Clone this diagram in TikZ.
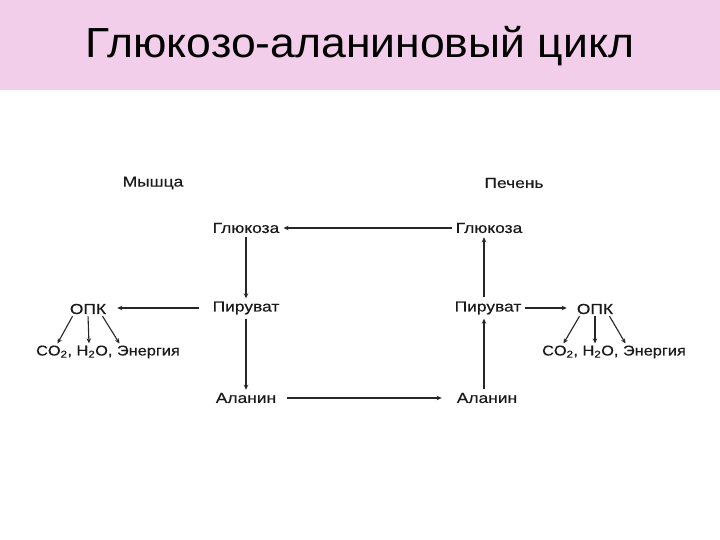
\documentclass[tikz,border=0pt]{standalone}
\usepackage{fontspec}
\setmainfont{Liberation Sans}
\newfontfamily\labfont[FakeStretch=1.2,FakeBold=0.4]{Liberation Sans}
\newfontfamily\rowfont[FakeStretch=1.15,FakeBold=0.4]{Liberation Sans}
\newfontfamily\titlefont[FakeStretch=1.06]{Liberation Sans}
\usetikzlibrary{arrows.meta}
\definecolor{band}{RGB}{243,206,234}
\begin{document}
\begin{tikzpicture}[x=1pt,y=-1pt,
  lab/.style={font=\labfont\fontsize{14.5}{16}\selectfont, inner sep=1pt, text=black!90},
  row/.style={font=\rowfont\fontsize{14.2}{16}\selectfont, inner sep=1pt, text=black!90},
  arr/.style={line width=1.1pt, -{Stealth[length=5pt,width=4.5pt]}, black!85}]
\useasboundingbox (0,0) rectangle (720,540);
\fill[band] (0,0) rectangle (720,90);
\node[font=\titlefont\fontsize{42}{46}\selectfont] (title) at (360,46) {Глюкозо-аланиновый цикл};
\node[lab] (musc) at (153,183) {Мышца};
\node[lab] (liv) at (514,183) {Печень};
\node[lab] (gL) at (246,228) {Глюкоза};
\node[lab] (gR) at (489,228) {Глюкоза};
\node[lab] (pL) at (246,308) {Пируват};
\node[lab] (pR) at (488,308) {Пируват};
\node[lab] (aL) at (246,398) {Аланин};
\node[lab] (aR) at (487,398) {Аланин};
\node[lab] (oL) at (88,309) {ОПК};
\node[lab] (oR) at (595,309) {ОПК};
\node[row] (cL) at (108,352) {CO\textsubscript{2}, H\textsubscript{2}O, Энергия};
\node[row] (cR) at (614,352) {CO\textsubscript{2}, H\textsubscript{2}O, Энергия};
% main cycle
\draw[arr, shorten <=3pt, shorten >=3pt] (gR.west) -- (gR.west -| gL.east);
\draw[arr, shorten <=3pt, shorten >=2pt] (gL.south) -- (gL.south |- pL.north);
\draw[arr, shorten <=12pt, shorten >=10pt] (pL.west) -- (pL.west -| oL.east);
\draw[arr, shorten <=3pt, shorten >=2pt] (pL.south) -- (pL.south |- aL.north);
\draw[arr, shorten <=10pt, shorten >=14pt] (aL.east) -- (aL.east -| aR.west);
\draw[arr, shorten <=3pt, shorten >=3pt] ([xshift=-3pt]aR.north) -- ([xshift=-3pt]aR.north |- pR.south);
\draw[arr, shorten <=3pt, shorten >=3pt] ([xshift=-3pt]aR.north |- pR.north) -- ([xshift=-3pt]aR.north |- gR.south);
\draw[arr, shorten <=2pt, shorten >=9pt] (pR.east) -- (pR.east -| oR.west);
% decomposition
\draw[arr, shorten <=1pt, shorten >=1pt] ([xshift=-15pt]oL.south) -- ([xshift=-51pt]cL.north);
\draw[arr, shorten <=1pt, shorten >=1pt] (oL.south) -- ([xshift=-19pt]cL.north);
\draw[arr, shorten <=1pt, shorten >=1pt] ([xshift=14pt]oL.south) -- ([xshift=12pt]cL.north);
\draw[arr, shorten <=1pt, shorten >=1pt] ([xshift=-15pt]oR.south) -- ([xshift=-51pt]cR.north);
\draw[arr, shorten <=1pt, shorten >=1pt] (oR.south) -- ([xshift=-19pt]cR.north);
\draw[arr, shorten <=1pt, shorten >=1pt] ([xshift=14pt]oR.south) -- ([xshift=12pt]cR.north);
\end{tikzpicture}
\end{document}
